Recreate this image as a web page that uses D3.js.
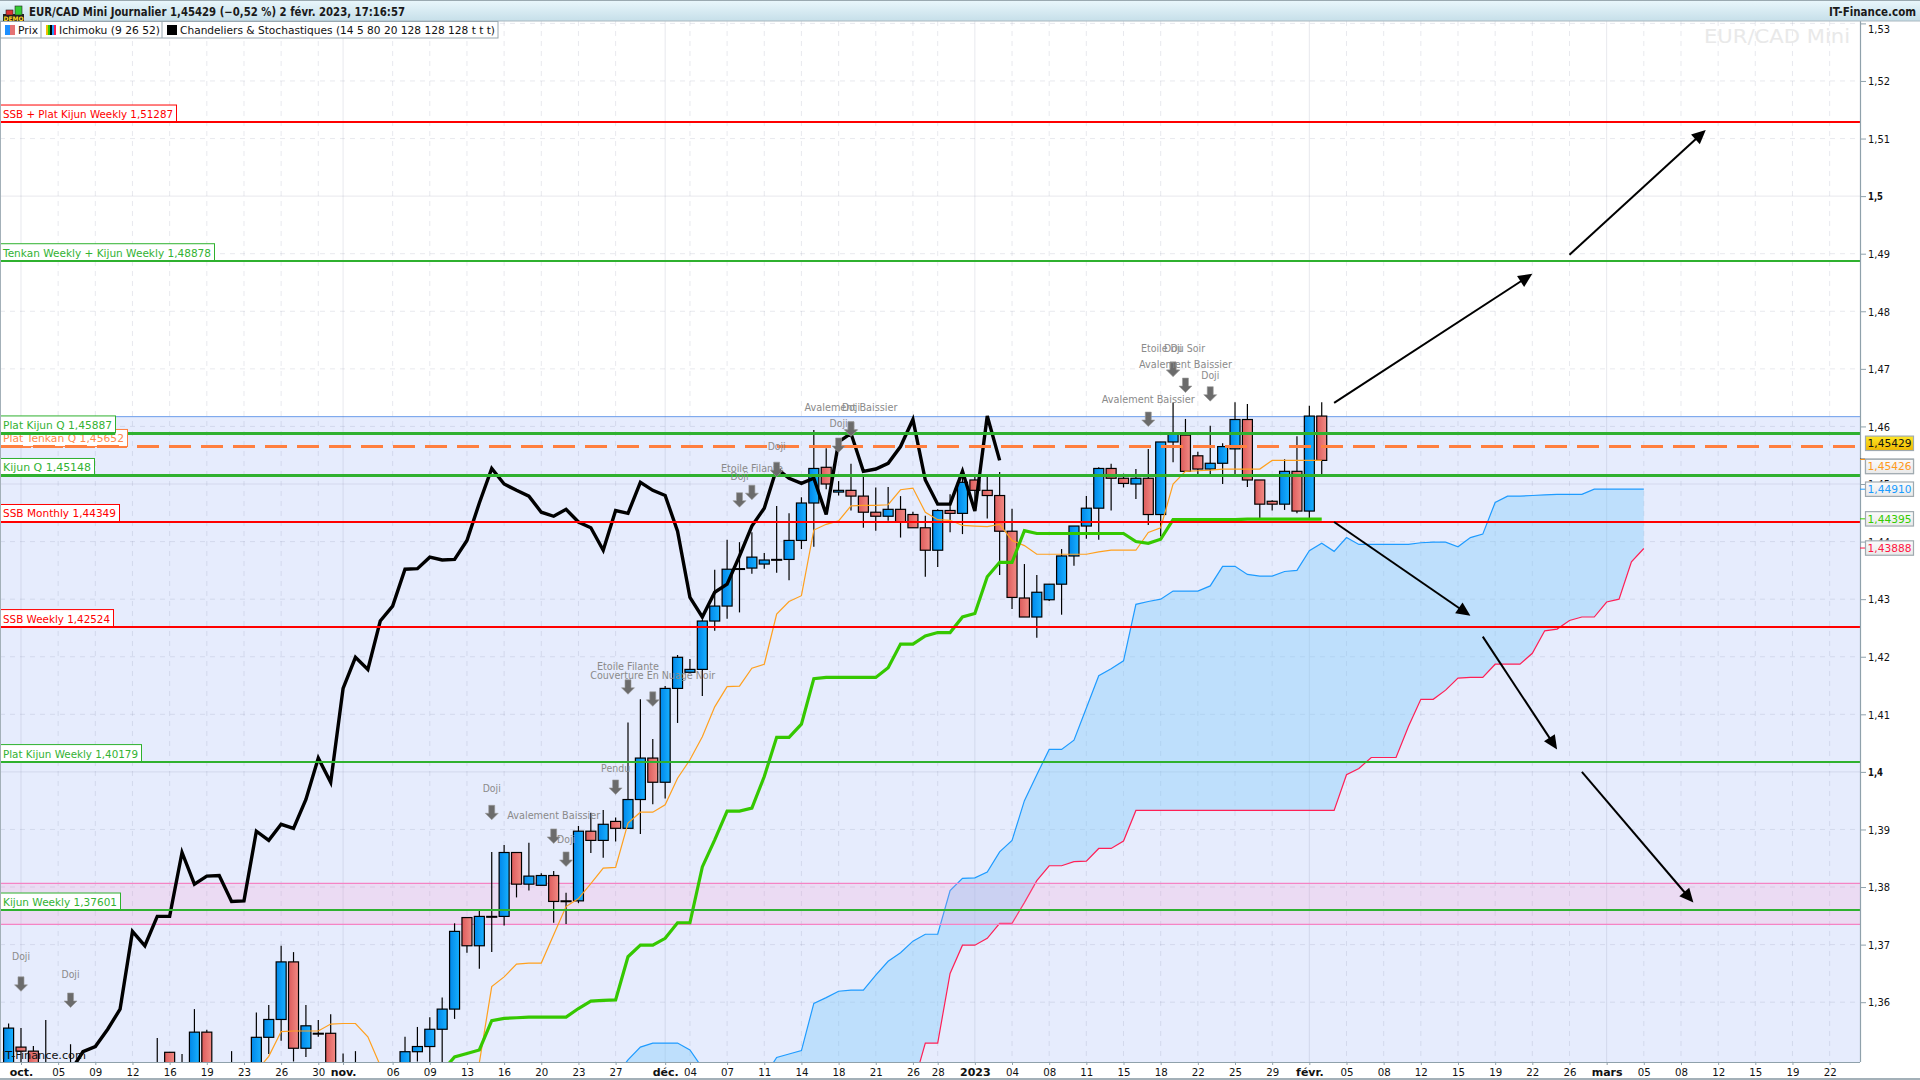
<!DOCTYPE html>
<html lang="fr"><head><meta charset="utf-8"><title>EUR/CAD Mini</title>
<script src="https://cdn.jsdelivr.net/npm/d3@7/dist/d3.min.js"></script>
<style>html,body{margin:0;background:#fff;overflow:hidden}svg{display:block}text{font-family:"DejaVu Sans",sans-serif}</style>
</head><body><svg id="c" width="1920" height="1080"></svg>
<script>
// ---------- data ----------
const opens=[1.3480,1.3522,1.3515,1.3450,1.3460,1.3470,1.3460,1.3450,1.3455,1.3445,1.3450,1.3455,1.3470,1.3513,1.3465,1.3470,1.3548,1.3455,1.3470,1.3460,1.3480,1.3539,1.3570,1.3670,1.3520,1.3546,1.3546,1.3470,1.3480,1.3470,1.3460,1.3470,1.3480,1.3514,1.3523,1.3553,1.3588,1.3747,1.3698,1.3749,1.3749,1.3860,1.3805,1.3803,1.3820,1.3776,1.3776,1.3897,1.3881,1.3914,1.3902,1.3952,1.4024,1.3982,1.4145,1.4173,1.4178,1.4262,1.4288,1.4353,1.4354,1.4361,1.4369,1.4369,1.4402,1.4467,1.4529,1.4486,1.4489,1.4479,1.4451,1.4444,1.4456,1.4447,1.4424,1.4385,1.4454,1.4449,1.4507,1.4489,1.4480,1.4418,1.4302,1.4269,1.4299,1.4326,1.4375,1.4427,1.4458,1.4527,1.4510,1.4500,1.4510,1.4447,1.4573,1.4585,1.4549,1.4526,1.4536,1.4561,1.4612,1.4507,1.4470,1.4465,1.4522,1.4453,1.4618];
const highs=[1.3563,1.3555,1.3524,1.3569,1.3480,1.3527,1.3480,1.3475,1.3480,1.3470,1.3475,1.3480,1.3538,1.3513,1.3510,1.3588,1.3552,1.3480,1.3515,1.3480,1.3582,1.3595,1.3698,1.3687,1.3595,1.3569,1.3579,1.3511,1.3515,1.3485,1.3480,1.3490,1.3540,1.3557,1.3574,1.3608,1.3737,1.3747,1.3759,1.3861,1.3873,1.3860,1.3877,1.3824,1.3828,1.3790,1.3906,1.3929,1.3934,1.3921,1.4086,1.4126,1.4057,1.4149,1.4203,1.4196,1.4264,1.4351,1.4403,1.4399,1.4416,1.4380,1.4462,1.4449,1.4477,1.4594,1.4562,1.4505,1.4535,1.4517,1.4494,1.4495,1.4479,1.4452,1.4445,1.4456,1.4482,1.4522,1.4513,1.4513,1.4521,1.4457,1.4361,1.4342,1.4326,1.4387,1.4427,1.4479,1.4529,1.4535,1.4518,1.4526,1.4561,1.4573,1.4641,1.4613,1.4556,1.4601,1.4571,1.4642,1.4639,1.4507,1.4472,1.4543,1.4583,1.4636,1.4642];
const lows=[1.3460,1.3490,1.3460,1.3430,1.3440,1.3450,1.3440,1.3430,1.3440,1.3430,1.3430,1.3440,1.3440,1.3460,1.3440,1.3450,1.3450,1.3440,1.3450,1.3440,1.3460,1.3510,1.3533,1.3497,1.3505,1.3540,1.3460,1.3450,1.3460,1.3450,1.3440,1.3450,1.3460,1.3497,1.3490,1.3490,1.3571,1.3686,1.3658,1.3687,1.3733,1.3782,1.3794,1.3803,1.3738,1.3736,1.3772,1.3859,1.3851,1.3879,1.3902,1.3892,1.3944,1.3954,1.4085,1.4173,1.4132,1.4245,1.4266,1.4277,1.4344,1.4353,1.4346,1.4333,1.4387,1.4391,1.4491,1.4480,1.4454,1.4424,1.4419,1.4436,1.4407,1.4424,1.4339,1.4356,1.4416,1.4413,1.4455,1.4440,1.4342,1.4283,1.4269,1.4233,1.4297,1.4273,1.4358,1.4405,1.4403,1.4454,1.4494,1.4474,1.4429,1.4409,1.4538,1.4522,1.4516,1.4516,1.4500,1.4513,1.4495,1.4441,1.4454,1.4455,1.4449,1.4440,1.4513];
const closes=[1.3555,1.3515,1.3490,1.3480,1.3470,1.3480,1.3470,1.3465,1.3470,1.3460,1.3465,1.3470,1.3480,1.3480,1.3480,1.3548,1.3470,1.3465,1.3480,1.3470,1.3539,1.3570,1.3670,1.3520,1.3559,1.3546,1.3480,1.3480,1.3470,1.3460,1.3470,1.3480,1.3514,1.3523,1.3553,1.3588,1.3723,1.3698,1.3749,1.3749,1.3860,1.3805,1.3819,1.3820,1.3775,1.3776,1.3897,1.3881,1.3909,1.3902,1.3952,1.4024,1.3982,1.4145,1.4199,1.4178,1.4262,1.4288,1.4352,1.4353,1.4373,1.4368,1.4369,1.4402,1.4467,1.4527,1.4500,1.4489,1.4479,1.4451,1.4444,1.4456,1.4434,1.4424,1.4385,1.4454,1.4449,1.4503,1.4489,1.4480,1.4418,1.4303,1.4269,1.4312,1.4326,1.4375,1.4427,1.4458,1.4527,1.4510,1.4501,1.4510,1.4447,1.4573,1.4588,1.4522,1.4526,1.4536,1.4565,1.4612,1.4507,1.4465,1.4465,1.4522,1.4453,1.4618,1.4541];
const chikou=[1.3480,1.3480,1.3470,1.3460,1.3470,1.3480,1.3514,1.3523,1.3553,1.3588,1.3723,1.3698,1.3749,1.3749,1.3860,1.3805,1.3819,1.3820,1.3775,1.3776,1.3897,1.3881,1.3909,1.3902,1.3952,1.4024,1.3982,1.4145,1.4199,1.4178,1.4262,1.4288,1.4352,1.4353,1.4373,1.4368,1.4369,1.4402,1.4467,1.4527,1.4500,1.4489,1.4479,1.4451,1.4444,1.4456,1.4434,1.4424,1.4385,1.4454,1.4449,1.4503,1.4489,1.4480,1.4418,1.4303,1.4269,1.4312,1.4326,1.4375,1.4427,1.4458,1.4527,1.4510,1.4501,1.4510,1.4447,1.4573,1.4588,1.4522,1.4526,1.4536,1.4565,1.4612,1.4507,1.4465,1.4465,1.4522,1.4453,1.4618,1.4541];
const tenkanStart=20;
const tenkan=[1.3480,1.3506,1.3549,1.3550,1.3550,1.3550,1.3562,1.3563,1.3563,1.3540,1.3490,1.3470,1.3460,1.3460,1.3460,1.3460,1.3465,1.3470,1.3495,1.3627,1.3644,1.3666,1.3668,1.3668,1.3717,1.3766,1.3780,1.3806,1.3833,1.3834,1.3911,1.3930,1.3930,1.3943,1.3989,1.4021,1.4061,1.4113,1.4148,1.4149,1.4180,1.4187,1.4274,1.4296,1.4306,1.4420,1.4430,1.4436,1.4462,1.4463,1.4463,1.4464,1.4490,1.4493,1.4451,1.4438,1.4437,1.4428,1.4427,1.4426,1.4430,1.4402,1.4393,1.4378,1.4378,1.4378,1.4378,1.4378,1.4382,1.4385,1.4385,1.4385,1.4416,1.4424,1.4500,1.4522,1.4523,1.4524,1.4526,1.4526,1.4526,1.4526,1.4541,1.4541,1.4541,1.4541,1.4541];
const kijunStart=35;
const kijun=[1.3480,1.3505,1.3511,1.3517,1.3568,1.3572,1.3573,1.3574,1.3574,1.3574,1.3574,1.3589,1.3602,1.3603,1.3604,1.3679,1.3699,1.3699,1.3711,1.3738,1.3738,1.3835,1.3882,1.3932,1.3932,1.3937,1.3992,1.4060,1.4060,1.4083,1.4162,1.4164,1.4164,1.4164,1.4164,1.4164,1.4181,1.4222,1.4222,1.4236,1.4242,1.4242,1.4269,1.4275,1.4339,1.4364,1.4364,1.4419,1.4414,1.4414,1.4414,1.4414,1.4414,1.4414,1.4414,1.4414,1.4400,1.4397,1.4404,1.4438,1.4438,1.4438,1.4438,1.4438,1.4438,1.4439,1.4439,1.4439,1.4439,1.4439,1.4439,1.4439];
const cloudStart=48;
const ssa=[1.3450,1.3470,1.3500,1.3522,1.3529,1.3529,1.3529,1.3517,1.3486,1.3450,1.3430,1.3420,1.3420,1.3470,1.3504,1.3510,1.3516,1.3598,1.3608,1.3619,1.3621,1.3621,1.3647,1.3671,1.3686,1.3706,1.3718,1.3718,1.3794,1.3815,1.3816,1.3826,1.3861,1.3881,1.3950,1.3995,1.4039,1.4039,1.4055,1.4111,1.4167,1.4179,1.4193,1.4291,1.4296,1.4300,1.4314,1.4314,1.4314,1.4323,1.4357,1.4357,1.4343,1.4340,1.4340,1.4348,1.4350,1.4384,1.4397,1.4383,1.4407,1.4395,1.4395,1.4395,1.4395,1.4395,1.4398,1.4399,1.4399,1.4391,1.4407,1.4413,1.4468,1.4479,1.4479,1.4480,1.4481,1.4482,1.4482,1.4482,1.4491,1.4491,1.4491,1.4491,1.4491];
const ssb=[1.3380,1.3380,1.3380,1.3380,1.3380,1.3380,1.3380,1.3380,1.3380,1.3380,1.3380,1.3380,1.3380,1.3380,1.3380,1.3380,1.3380,1.3380,1.3380,1.3380,1.3380,1.3380,1.3380,1.3380,1.3380,1.3453,1.3529,1.3529,1.3650,1.3699,1.3699,1.3711,1.3737,1.3737,1.3773,1.3811,1.3837,1.3837,1.3844,1.3845,1.3867,1.3867,1.3880,1.3933,1.3933,1.3933,1.3933,1.3933,1.3933,1.3933,1.3933,1.3933,1.3933,1.3933,1.3933,1.3933,1.3933,1.3933,1.3933,1.3933,1.3995,1.4006,1.4025,1.4025,1.4025,1.4079,1.4126,1.4126,1.4142,1.4163,1.4164,1.4164,1.4187,1.4187,1.4187,1.4206,1.4245,1.4248,1.4263,1.4269,1.4269,1.4295,1.4300,1.4365,1.4388];
const levelNames=["SSB + Plat Kijun Weekly 1,51287","Tenkan Weekly + Kijun Weekly 1,48878","Plat Tenkan Q 1,45652","Plat Kijun Q 1,45887","Kijun Q 1,45148","SSB Monthly 1,44349","SSB Weekly 1,42524","Plat Kijun Weekly 1,40179","Kijun Weekly 1,37601"];
const levelValues=[1.51287,1.48878,1.45652,1.45887,1.45148,1.44349,1.42524,1.40179,1.37601];
const levelKinds=["r","g","o","G","G","r","r","g","g"];
const levelBoxW=[176,214,127,115,94,119,113,141,120];
const zoneTop=1.4617, bandHigh=1.38065, bandLow=1.37353;
const yTicks=[1.36,1.37,1.38,1.39,1.40,1.41,1.42,1.43,1.44,1.45,1.46,1.47,1.48,1.49,1.50,1.51,1.52,1.53];
const yTickLabels=["1,36","1,37","1,38","1,39","1,4","1,41","1,42","1,43","1,44","1,45","1,46","1,47","1,48","1,49","1,5","1,51","1,52","1,53"];
const xTickIdx=[1,4,7,10,13,16,19,22,25,27,31,34,37,40,43,46,49,53,55,58,61,64,67,70,73,75,78,81,84,87,90,93,96,99,102,105,108,111,114,117,120,123,126,129,132,135,138,141,144,147];
const xTickLabels=["oct.","05","09","12","16","19","23","26","30","nov.","06","09","13","16","20","23","27","déc.","04","07","11","14","18","21","26","28","2023","04","08","11","15","18","22","25","29","févr.","05","08","12","15","19","22","26","mars","05","08","12","15","19","22"];
const majorMonths=["oct.","nov.","déc.","2023","févr.","mars"];
const noteLabels=["Doji","Doji","Doji","Avalement Baissier","Doji","Pendu","Etoile Filante","Couverture En Nuage Noir","Doji","Etoile Filante","Doji","Doji","Avalement Baissier","Doji","Avalement Baissier","Etoile Du Soir","Doji","Avalement Baissier","Doji"];
const noteIdx=[1,5,39,44,45,49,50,52,59,60,62,67,68,68,92,94,94,95,97];
const noteArrow=[1.3644,1.3616,1.3942,1.3901,1.3861,1.3986,1.4160,1.4139,1.4485,1.4498,1.4538,1.4580,1.4608,1.4608,1.4625,1.4712,1.4712,1.4684,1.4669];
const noteText=[1.3680,1.3649,1.3972,1.3925,1.3883,1.4007,1.4184,1.4168,1.4514,1.4528,1.4566,1.4606,1.4634,1.4634,1.4648,1.4735,1.4735,1.4708,1.4689];
const noteWidths={"Doji":18,"Pendu":29,"Etoile Filante":62,"Etoile Du Soir":64,"Avalement Baissier":93,"Couverture En Nuage Noir":125};
const arrowsFromIdx=[107,126,107,119,127], arrowsToIdx=[123,137,118,125,136];
const arrowsFromV=[1.4641,1.4898,1.4434,1.4235,1.4000], arrowsToV=[1.4865,1.5115,1.4271,1.4039,1.3773];
const priceBoxes=["1,45429","1,45429","1,45426","1,44910","1,44395","1,43888"];
const priceValues=[1.45429,1.45429,1.45426,1.44910,1.44395,1.43888];
const priceShift=[7,-16,7,0,0,0];
const priceColors=["#222","#111","#ff9a1a","#1a9cff","#33cc00","#ff1744"];
const titleText="EUR/CAD Mini Journalier 1,45429 (−0,52 %) 2 févr. 2023, 17:16:57";

// ---------- layout ----------
const plotR=1860, plotT=21, plotB=1062;
const x=d3.scaleLinear().domain([0,147]).range([8.6,8.6+12.388*147]);
const y=d3.scaleLinear().domain([1.36,1.53]).range([1002.2,1002.2-0.17*5757.7]);
const svg=d3.select("#c");
const defs=svg.append("defs");
defs.append("clipPath").attr("id","plot").append("rect").attr("x",0).attr("y",plotT).attr("width",plotR).attr("height",plotB-plotT);
function grad(id,stops,x2,y2){const g=defs.append("linearGradient").attr("id",id).attr("x1",0).attr("y1",0).attr("x2",x2).attr("y2",y2);
 stops.forEach((c,i)=>g.append("stop").attr("offset",i/(stops.length-1)).attr("stop-color",c));}
grad("gb",["#0088ea","#18b0ff"],1,0);grad("gr",["#dc5c5c","#f28a84"],1,0);
grad("title",["#eaf7fc","#c6dfe9"],0,1);grad("gold",["#ffe727","#f0b800"],0,1);grad("box",["#fbfbfb","#e9e9e9"],0,1);

svg.append("rect").attr("width",1920).attr("height",1080).attr("fill","#fff");
const plot=svg.append("g").attr("clip-path","url(#plot)");
plot.append("rect").attr("x",0).attr("width",plotR).attr("y",y(zoneTop)).attr("height",plotB-y(zoneTop)).attr("fill","#e6ecfd");
plot.append("line").attr("x1",0).attr("x2",plotR).attr("y1",y(zoneTop)).attr("y2",y(zoneTop)).attr("stroke","#6d9eeb").attr("stroke-width",1);

// grid
const gridC="rgba(110,120,150,.16)";
plot.append("g").selectAll("line").data(yTicks).join("line").attr("x1",0).attr("x2",plotR).attr("y1",d=>y(d)).attr("y2",d=>y(d))
 .attr("stroke",gridC).attr("stroke-dasharray",d=>[1.40,1.45,1.50].includes(d)?null:"5 5");
plot.append("g").selectAll("line").data(xTickIdx).join("line").attr("y1",plotT).attr("y2",plotB).attr("x1",d=>x(d)).attr("x2",d=>x(d))
 .attr("stroke",gridC).attr("stroke-dasharray",(d,i)=>majorMonths.includes(xTickLabels[i])?null:"5 5");

// cloud
const cloudIdx=d3.range(ssa.length);
plot.append("path").datum(cloudIdx).attr("fill","#7fcbfb").attr("fill-opacity",.38)
 .attr("d",d3.area().x(i=>x(i+cloudStart)).y0(i=>y(ssb[i])).y1(i=>y(ssa[i])));
const ln=(arr,start)=>d3.line().x((d,i)=>x(i+start)).y(d=>y(d))(arr);
plot.append("path").attr("d",ln(ssb,cloudStart)).attr("fill","none").attr("stroke","#ff1f55").attr("stroke-width",1.2);
plot.append("path").attr("d",ln(ssa,cloudStart)).attr("fill","none").attr("stroke","#1e9bff").attr("stroke-width",1.2);

// pink band
plot.append("rect").attr("x",0).attr("width",plotR).attr("y",y(bandHigh)).attr("height",y(bandLow)-y(bandHigh)).attr("fill","#ff9bcb").attr("fill-opacity",.2);
[bandHigh,bandLow].forEach(v=>plot.append("line").attr("x1",0).attr("x2",plotR).attr("y1",y(v)).attr("y2",y(v)).attr("stroke","#f583c4").attr("stroke-width",1.2));

// candles
const cd=d3.range(opens.length);
const cg=plot.append("g");
cg.selectAll("line").data(cd).join("line").attr("x1",i=>x(i)).attr("x2",i=>x(i)).attr("y1",i=>y(highs[i])).attr("y2",i=>y(lows[i])).attr("stroke","#000").attr("stroke-width",1.2);
cg.selectAll("rect").data(cd).join("rect").attr("x",i=>x(i)-5).attr("width",10)
 .attr("y",i=>y(Math.max(opens[i],closes[i]))).attr("height",i=>Math.max(0.8,Math.abs(y(opens[i])-y(closes[i]))))
 .attr("fill",i=>closes[i]>opens[i]?"url(#gb)":"url(#gr)").attr("stroke","#000").attr("stroke-width",1.2);

// ichimoku lines
plot.append("path").attr("d",ln(tenkan,tenkanStart)).attr("fill","none").attr("stroke","#ffa01e").attr("stroke-width",1.2);
plot.append("path").attr("d",ln(kijun,kijunStart)).attr("fill","none").attr("stroke","#35c800").attr("stroke-width",3.2);
plot.append("path").attr("d",ln(chikou,0)).attr("fill","none").attr("stroke","#000").attr("stroke-width",3.4);

// horizontal levels + labels
const kindC={r:"#ff0000",g:"#2fb12f",G:"#2fb12f",o:"#ff7f3f"}, kindT={r:"#ff0000",g:"#33b233",G:"#33b233",o:"#ff8a4c"};
const lv=plot.append("g");
levelValues.forEach((v,i)=>{const k=levelKinds[i];
 lv.append("line").attr("x1",k==="o"?9:0).attr("x2",plotR).attr("y1",y(v)+.4).attr("y2",y(v)+.4).attr("stroke",kindC[k]).attr("shape-rendering","crispEdges")
  .attr("stroke-width",k==="G"||k==="o"?3:2).attr("stroke-dasharray",k==="o"?"22 10":null);});
const lb=svg.append("g");
levelValues.forEach((v,i)=>{const k=levelKinds[i],w=levelBoxW[i],Y=y(v);
 const g=lb.append("g");
 g.append("rect").attr("x",.5).attr("y",Y-17).attr("width",w).attr("height",17).attr("fill","#fff").attr("stroke",kindC[k]);
 g.append("text").attr("x",3).attr("y",Y-4).attr("font-size",11).attr("fill",kindT[k]).attr("textLength",w-6).attr("lengthAdjust","spacingAndGlyphs").text(levelNames[i]);
});
// re-stroke the level lines over their label boxes
levelValues.forEach((v,i)=>{const k=levelKinds[i];
 lb.append("line").attr("x1",1).attr("x2",levelBoxW[i]).attr("y1",y(v)+.4).attr("y2",y(v)+.4).attr("stroke",kindC[k]).attr("shape-rendering","crispEdges").attr("stroke-width",k==="G"||k==="o"?3:2).attr("stroke-dasharray",k==="o"?"22 10":null);});

// pattern notes
const nt=svg.append("g");
noteLabels.forEach((t,i)=>{
 nt.append("path").attr("transform",`translate(${x(noteIdx[i])},${y(noteArrow[i])})`).attr("d","M-3,0h6v8h3.5l-6.5,6.5l-6.5,-6.5h3.5z").attr("fill","#6b6b6b").attr("stroke","#9a9a9a").attr("stroke-width",.6);
 nt.append("text").attr("x",x(noteIdx[i])).attr("y",y(noteText[i])).attr("dy","0.36em").attr("text-anchor","middle").attr("font-size",10.5).attr("fill","#8a8a8a")
  .attr("textLength",noteWidths[t]).attr("lengthAdjust","spacingAndGlyphs").text(t);
});

// trend arrows
const ar=svg.append("g");
arrowsFromIdx.forEach((a,i)=>{const x1=x(a),y1=y(arrowsFromV[i]),x2=x(arrowsToIdx[i]),y2=y(arrowsToV[i]);
 const t=Math.atan2(y2-y1,x2-x1)*180/Math.PI;
 ar.append("line").attr("x1",x1).attr("y1",y1).attr("x2",x2-9*Math.cos(t*Math.PI/180)).attr("y2",y2-9*Math.sin(t*Math.PI/180)).attr("stroke","#000").attr("stroke-width",2);
 ar.append("path").attr("transform",`translate(${x2},${y2}) rotate(${t})`).attr("d","M0,0L-14,-6.5L-14,6.5Z").attr("fill","#000");
});

// watermark + corner credit
svg.append("text").attr("x",1850).attr("y",43).attr("text-anchor","end").attr("font-size",20).attr("fill","#e9e9e9").attr("textLength",146).attr("lengthAdjust","spacingAndGlyphs").text("EUR/CAD Mini");
svg.append("text").attr("x",2).attr("y",1059).attr("font-size",10.5).attr("fill","#111").attr("textLength",84).attr("lengthAdjust","spacingAndGlyphs").text("IT-Finance.com");

// axes
const axC="#8fa1ab";
const yAxis=d3.axisRight(y).tickValues(yTicks).tickSize(6).tickFormat((d,i)=>yTickLabels[i]);
const ya=svg.append("g").attr("transform",`translate(${plotR},0)`).call(yAxis);
ya.select(".domain").attr("stroke",axC).attr("d",`M0.5,${plotT}V${plotB}`).attr("stroke-width",1.2);
ya.selectAll(".tick line").attr("stroke",axC);
ya.selectAll(".tick text").attr("x",8).attr("font-size",11).attr("fill","#111").attr("font-family","DejaVu Sans")
 .attr("font-weight",(d)=>[1.40,1.50].includes(d)?"bold":"normal")
 .attr("textLength",d=>[1.40,1.50].includes(d)?15:22).attr("lengthAdjust","spacingAndGlyphs")
 .attr("dy",d=>d===1.53?"0.85em":"0.34em");
const xAxis=d3.axisBottom(x).tickValues(xTickIdx).tickSize(3).tickFormat((d,i)=>xTickLabels[i]);
const xa=svg.append("g").attr("transform",`translate(0,${plotB})`).call(xAxis);
xa.select(".domain").attr("stroke",axC).attr("d",`M0,0.5H${plotR}`).attr("stroke-width",1.2);
xa.selectAll(".tick line").attr("stroke",axC);
xa.selectAll(".tick text").attr("y",6).attr("font-size",11).attr("fill","#111").attr("font-family","DejaVu Sans")
 .attr("font-weight",(d,i)=>majorMonths.includes(xTickLabels[i])?"bold":"normal")
 .each(function(d,i){if(!majorMonths.includes(xTickLabels[i]))d3.select(this).attr("textLength",13).attr("lengthAdjust","spacingAndGlyphs");});

// right-hand price boxes
const pb=svg.append("g");
priceBoxes.forEach((t,i)=>{const cy=y(priceValues[i])+priceShift[i];
 pb.append("line").attr("x1",plotR).attr("x2",plotR+5).attr("y1",y(priceValues[i])).attr("y2",y(priceValues[i])).attr("stroke",i<2?"#111":priceColors[i]);
 pb.append("rect").attr("x",1865.5).attr("y",cy-7.2).attr("width",48).attr("height",14.4).attr("fill",i===1?"url(#gold)":"url(#box)").attr("stroke","#a0aab0").attr("stroke-width",1.2);
 pb.append("text").attr("x",1889.5).attr("y",cy).attr("dy","0.36em").attr("text-anchor","middle").attr("font-size",11).attr("fill",priceColors[i]).attr("textLength",44).attr("lengthAdjust","spacingAndGlyphs").text(t);
});

// frame, title bar, legend
svg.append("line").attr("x1",.5).attr("x2",.5).attr("y1",21).attr("y2",1062).attr("stroke","#a3b0b8");
svg.append("rect").attr("x",0).attr("y",1078).attr("width",1920).attr("height",2).attr("fill","#a3b0b8");
svg.append("rect").attr("width",1920).attr("height",21).attr("fill","url(#title)");
svg.append("rect").attr("width",1920).attr("height",1).attr("fill","#9aa9b0");
svg.append("rect").attr("y",20.5).attr("width",1920).attr("height",1).attr("fill","#aab8bf");
svg.append("text").attr("x",29).attr("y",16).attr("font-size",11.5).attr("font-weight","bold").attr("fill","#1a1a1a").attr("textLength",376).attr("lengthAdjust","spacingAndGlyphs").text(titleText);
svg.append("text").attr("x",1829).attr("y",16).attr("font-size",11.5).attr("font-weight","bold").attr("fill","#1a1a1a").attr("textLength",87).attr("lengthAdjust","spacingAndGlyphs").text("IT-Finance.com");
// demo icon
const ic=svg.append("g");
ic.append("rect").attr("x",3).attr("y",14).attr("width",21).attr("height",8).attr("fill","#222");
ic.append("rect").attr("x",6).attr("y",10).attr("width",7).attr("height",5).attr("fill","#d33").attr("stroke","#222").attr("stroke-width",.6);
ic.append("rect").attr("x",15).attr("y",6).attr("width",7).attr("height",9).attr("fill","#3c3").attr("stroke","#222").attr("stroke-width",.6);
ic.append("text").attr("x",3.5).attr("y",21).attr("font-size",6.2).attr("font-weight","bold").attr("fill","#ffd81f").attr("textLength",20).attr("lengthAdjust","spacingAndGlyphs").text("DEMO");
// legend
const leg=svg.append("g");
leg.append("rect").attr("x",.5).attr("y",21.5).attr("width",497.5).attr("height",16.5).attr("fill","#fff").attr("stroke","#9aa8b0");
[41,162].forEach(v=>leg.append("line").attr("x1",v).attr("x2",v).attr("y1",22).attr("y2",38).attr("stroke","#9aa8b0"));
leg.append("rect").attr("x",5).attr("y",25).attr("width",5).attr("height",10).attr("fill","#1e90ff");
leg.append("rect").attr("x",10).attr("y",25).attr("width",5).attr("height",10).attr("fill","#e57373");
["#f0c000","#35c800","#000","#1e9bff","#ff1f55"].forEach((c,i)=>leg.append("rect").attr("x",46+i*2).attr("y",25).attr("width",2).attr("height",10).attr("fill",c));
leg.append("rect").attr("x",167).attr("y",25).attr("width",10).attr("height",10).attr("fill","#000");
[["Prix",18,20],["Ichimoku (9 26 52)",59,101],["Chandeliers & Stochastiques (14 5 80 20 128 128 128 t t t)",180,315]].forEach(([t,xx,w])=>
 leg.append("text").attr("x",xx).attr("y",34).attr("font-size",11).attr("fill","#111").attr("textLength",w).attr("lengthAdjust","spacingAndGlyphs").text(t));
</script></body></html>
